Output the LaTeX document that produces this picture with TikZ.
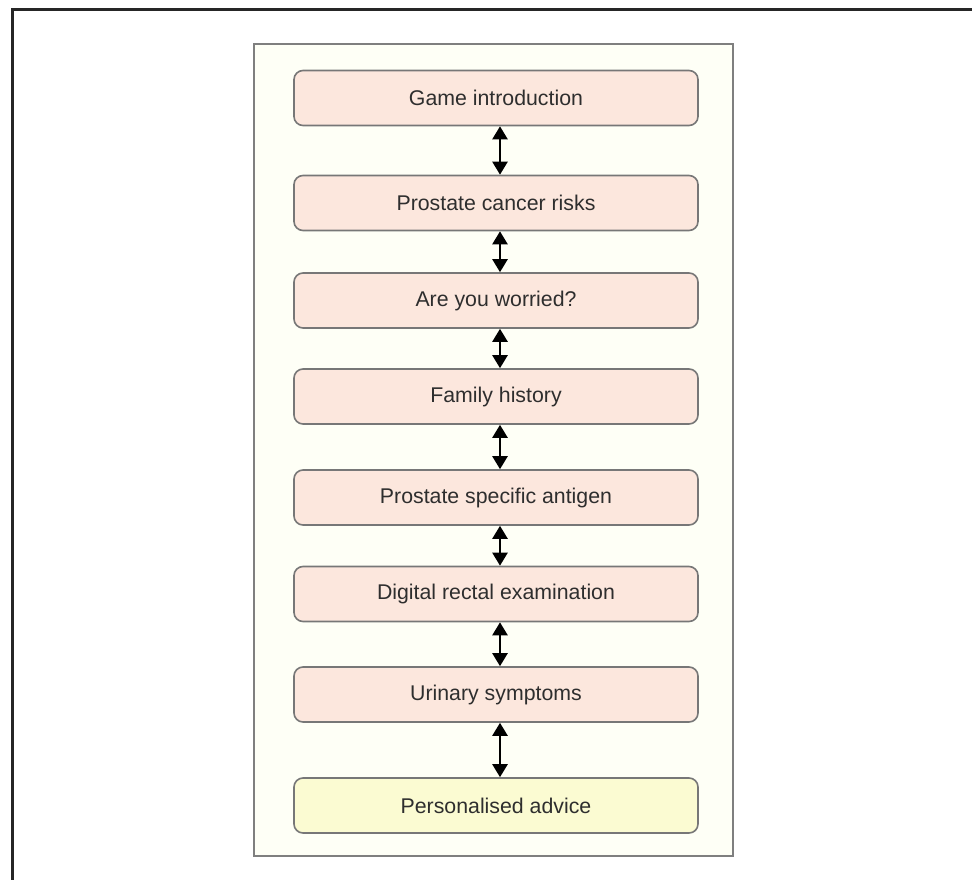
\documentclass[tikz,border=0pt]{standalone}
\usepackage{fontspec}
\setmainfont{Liberation Sans}
\usetikzlibrary{arrows.meta}
\definecolor{panelfill}{HTML}{FEFFF6}
\definecolor{panelline}{HTML}{7F7F7F}
\definecolor{boxfill}{HTML}{FCE7DD}
\definecolor{advfill}{HTML}{FBFBD2}
\definecolor{boxline}{HTML}{777777}
\definecolor{txt}{HTML}{2E2E2E}
\tikzset{
  stepbox/.style={draw=boxline, line width=1.6pt, fill=boxfill, rounded corners=9pt,
    minimum width=404pt, minimum height=55pt, inner sep=0pt,
    font=\fontsize{21.3}{25}\selectfont, text=txt},
  advbox/.style={stepbox, fill=advfill},
  dbl/.style={line width=2.4pt, {Triangle[width=15pt,length=13pt]}-{Triangle[width=15pt,length=13pt]}}
}
\begin{document}
\begin{tikzpicture}[x=1pt,y=-1pt]
\useasboundingbox (0,0) rectangle (972,880);
\clip (0,0) rectangle (972,880);
\draw[line width=3pt, black!85] (12,9.5) rectangle (1000,910);
\draw[panelline, line width=1.5pt, fill=panelfill] (254,44) rectangle (733,856);
\node[stepbox] (b1) at (496,98) {Game introduction};
\node[stepbox] (b2) at (496,203) {Prostate cancer risks};
\node[stepbox] (b3) at (496,300.5) {Are you worried?};
\node[stepbox] (b4) at (496,396.5) {Family history};
\node[stepbox] (b5) at (496,497.5) {Prostate specific antigen};
\node[stepbox] (b6) at (496,594) {Digital rectal examination};
\node[stepbox] (b7) at (496,694.5) {Urinary symptoms};
\node[advbox] (b8) at (496,805.5) {Personalised advice};
\foreach \a/\b in {b1/b2,b2/b3,b3/b4,b4/b5,b5/b6,b6/b7,b7/b8}{
  \draw[dbl] ([xshift=4pt]\a.south) -- ([xshift=4pt]\b.north);
}
\end{tikzpicture}
\end{document}
